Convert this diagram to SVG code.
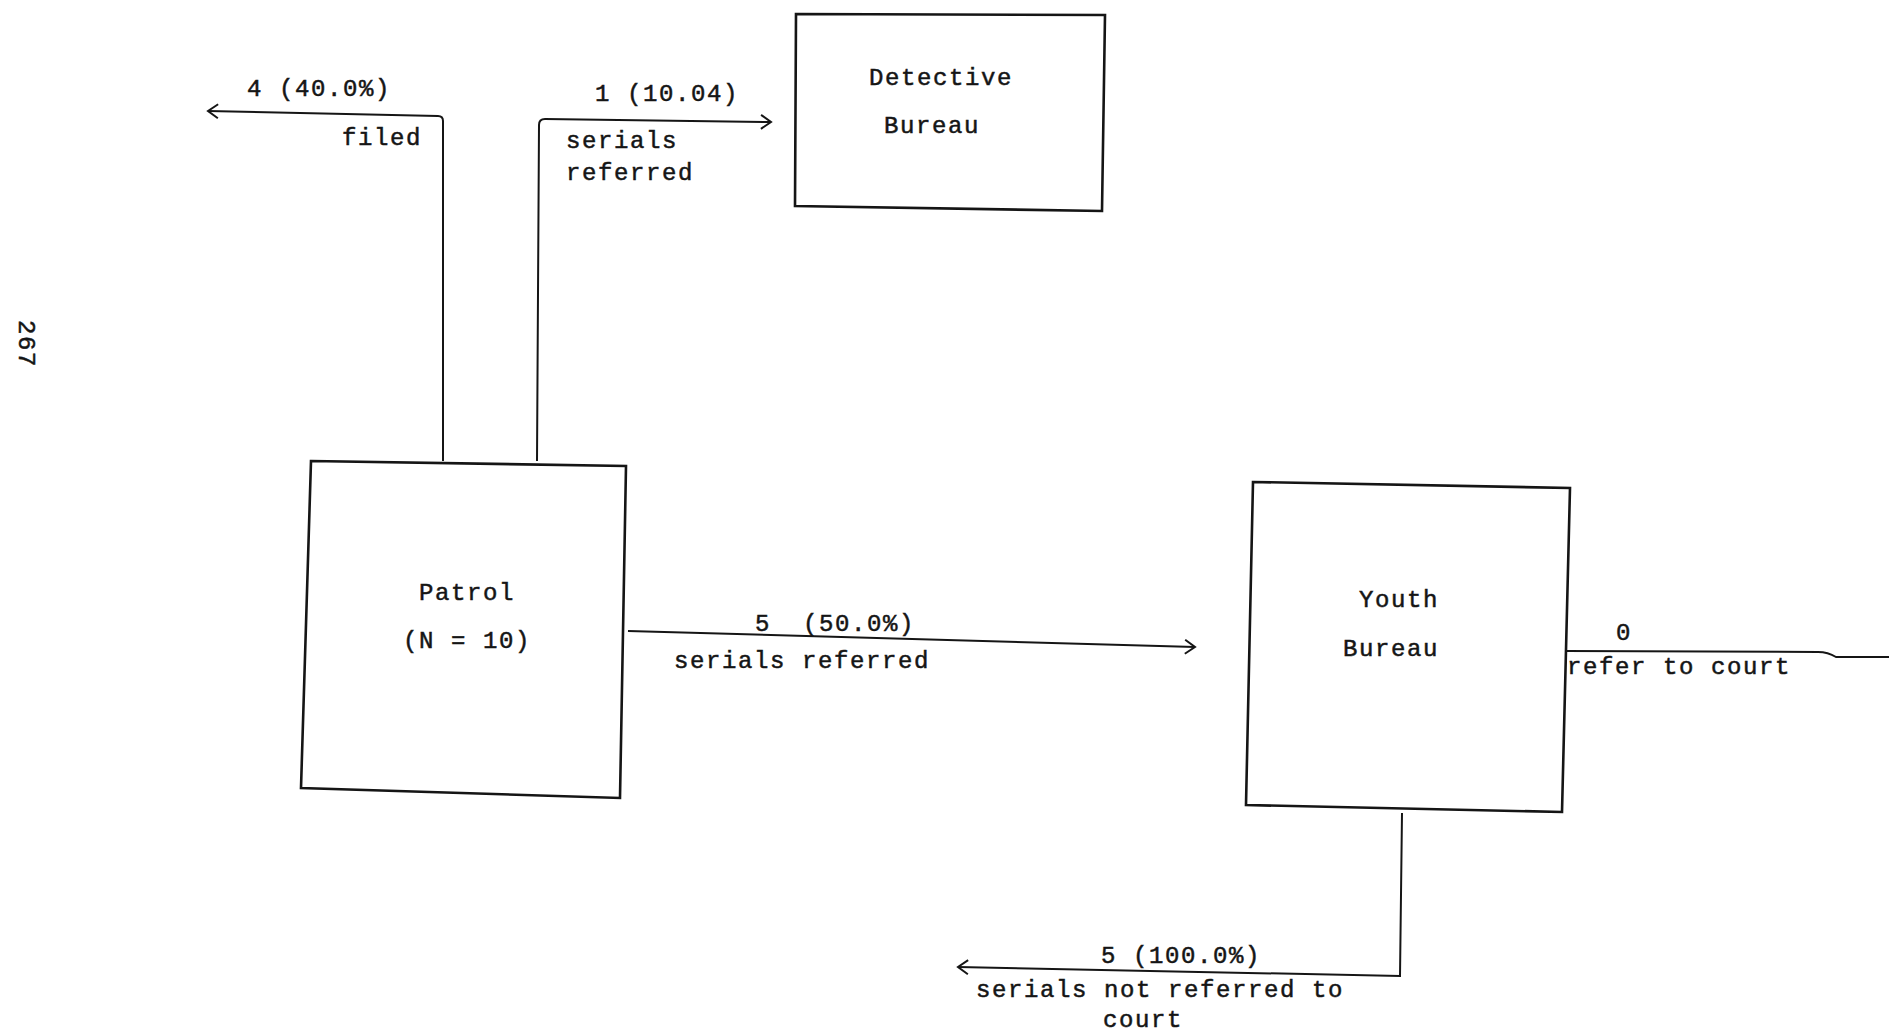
<svg xmlns="http://www.w3.org/2000/svg" width="1889" height="1035" viewBox="0 0 1889 1035">
<defs>
<style>
.t{font-family:"Liberation Mono","DejaVu Sans Mono",monospace;font-size:24px;letter-spacing:1.6px;fill:#151515;stroke:#151515;stroke-width:0.5px}
.m{text-anchor:middle}
.box{fill:none;stroke:#151515;stroke-width:2.6;stroke-linejoin:miter}
.c{fill:none;stroke:#151515;stroke-width:2}
</style>
<marker id="arr" markerUnits="userSpaceOnUse" markerWidth="16" markerHeight="18" refX="12" refY="8" orient="auto" viewBox="0 0 16 16">
<path d="M2,1 L12,8 L2,15" fill="none" stroke="#151515" stroke-width="2"/>
</marker>
</defs>
<rect width="1889" height="1035" fill="#ffffff"/>
<text class="t m" transform="translate(27,344) rotate(90)" y="8">267</text>
<g id="connectors">
<path class="c" d="M443,461 L443,121 Q443,116 438,116 L208,111" marker-end="url(#arr)"/>
<path class="c" d="M537,461 L539,125 Q539,119 545,119 L771,122" marker-end="url(#arr)"/>
<path class="c" d="M628,631 L1195,647" marker-end="url(#arr)"/>
<path class="c" d="M1566,651 L1818,652 Q1828,652 1836,657 L1889,657"/>
<path class="c" d="M1402,813 L1400,976 L958,967" marker-end="url(#arr)"/>
</g>
<g id="labels">
<text class="t m" x="319" y="96">4 (40.0%)</text>
<text class="t m" x="382" y="145">filed</text>
<text class="t m" x="667" y="101">1 (10.04)</text>
<text class="t" x="566" y="148">serials</text>
<text class="t" x="566" y="180">referred</text>
<text class="t" x="755" y="631" xml:space="preserve">5  (50.0%)</text>
<text class="t m" x="802" y="668">serials referred</text>
<text class="t m" x="1624" y="640">0</text>
<text class="t" x="1567" y="674">refer to court</text>
<text class="t m" x="1181" y="963">5 (100.0%)</text>
<text class="t m" x="1160" y="997">serials not referred to</text>
<text class="t m" x="1143" y="1027">court</text>
</g>
<g id="detective-bureau">
<polygon class="box" points="796,14 1105,15 1102,211 795,206"/>
<text class="t m" x="941" y="85">Detective</text>
<text class="t m" x="932" y="133">Bureau</text>
</g>
<g id="patrol">
<polygon class="box" points="311,461 626,466 620,798 301,788"/>
<text class="t m" x="467" y="600">Patrol</text>
<text class="t m" x="467" y="648">(N = 10)</text>
</g>
<g id="youth-bureau">
<polygon class="box" points="1253,482 1570,488 1562,812 1246,805"/>
<text class="t m" x="1399" y="607">Youth</text>
<text class="t m" x="1391" y="656">Bureau</text>
</g>
</svg>
